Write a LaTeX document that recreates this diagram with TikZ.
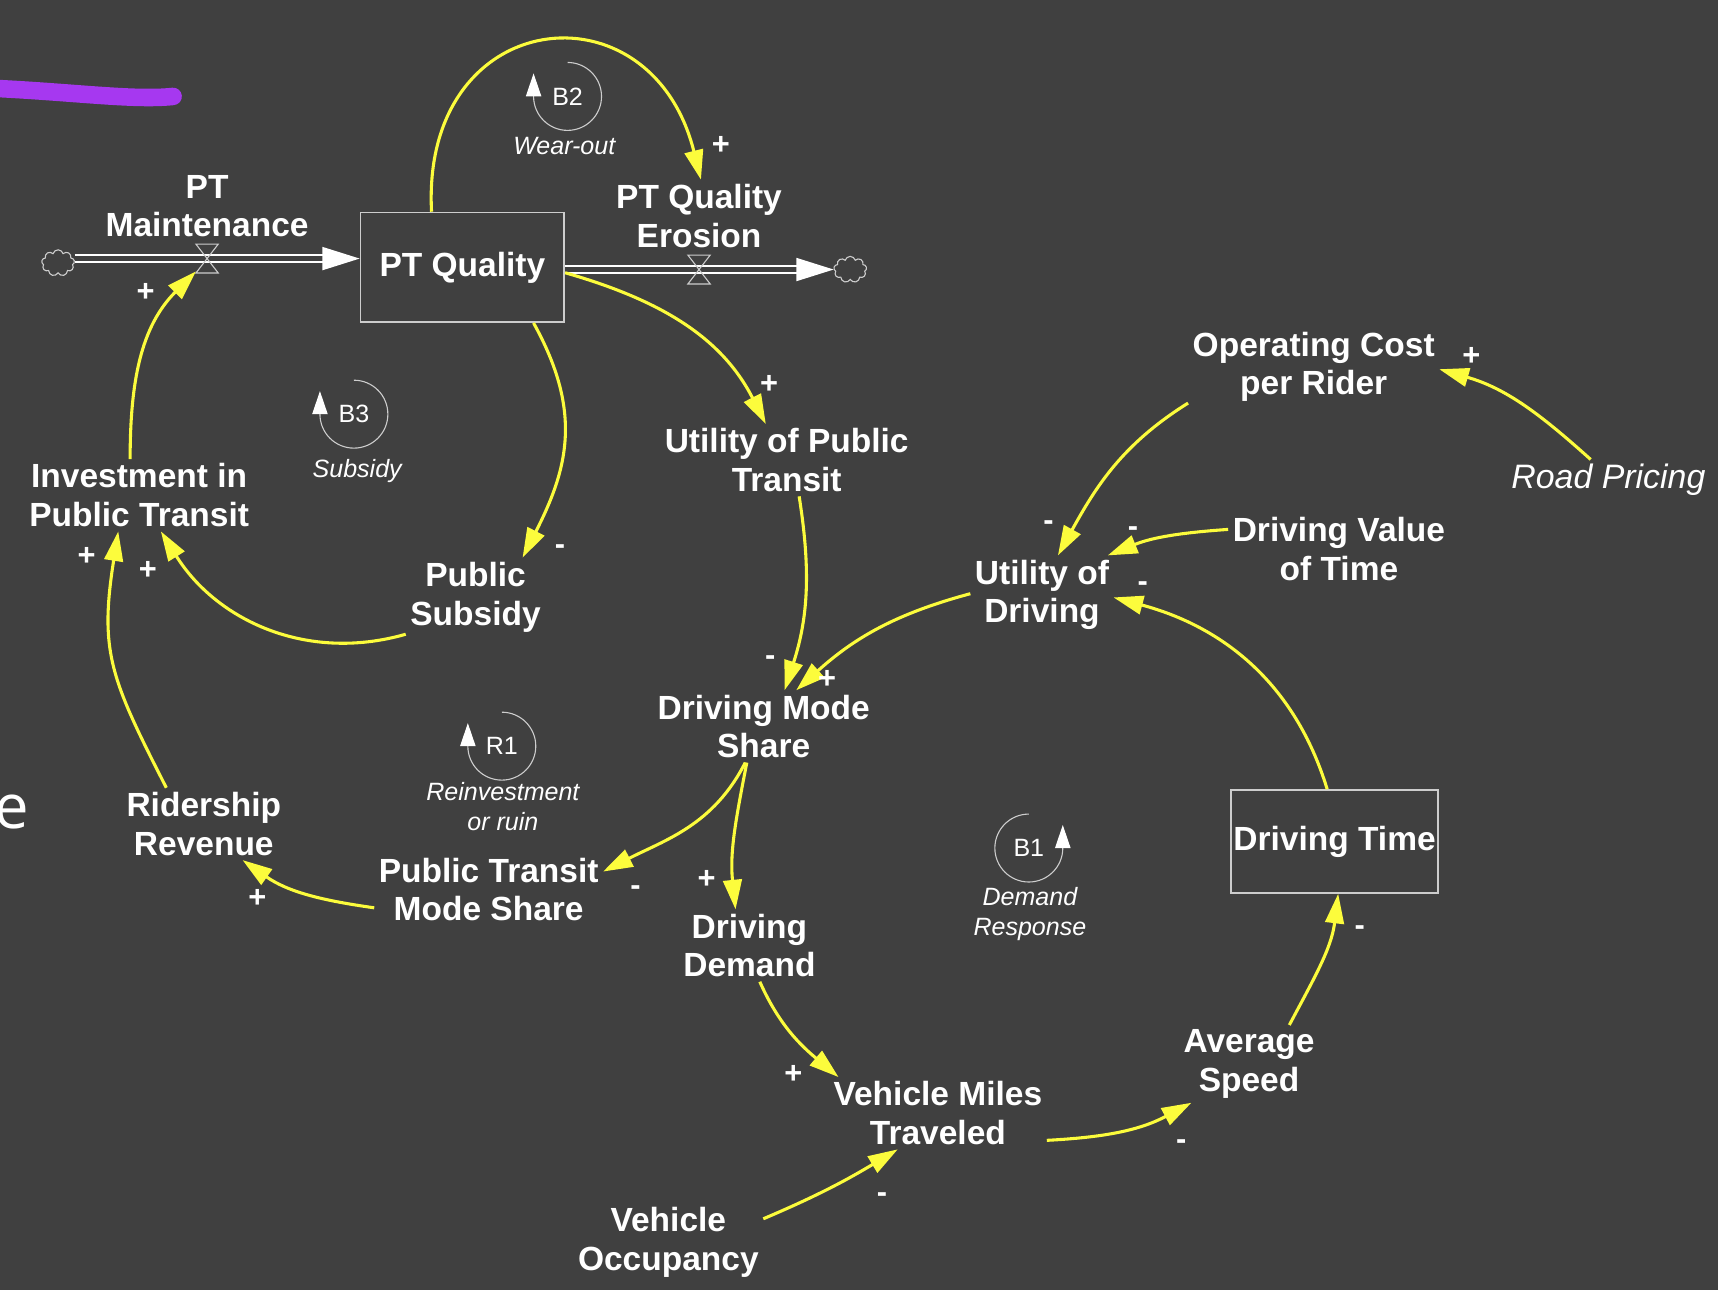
\documentclass[tikz,border=0pt]{standalone}
\usepackage{fontspec}
\setmainfont{Liberation Sans}
\newfontfamily\letterfont{Open Sans}
\usetikzlibrary{arrows.meta,shapes.symbols}

\definecolor{bg}{RGB}{64,64,64}
\definecolor{linkyellow}{RGB}{252,252,60}
\definecolor{markpurple}{RGB}{166,56,240}
\definecolor{rim}{RGB}{205,205,205}

\begin{document}
\begin{tikzpicture}[x=0.1mm,y=0.1mm,
    var/.style={text=white,align=center,font=\fontsize{8.7}{10}\selectfont\bfseries,inner sep=1pt},
    stock/.style={draw=rim,line width=0.15mm,text=white,font=\fontsize{8.7}{10}\selectfont\bfseries,inner sep=0pt},
    link/.style={draw=linkyellow,line width=0.8pt,-{Triangle[length=2.7mm,width=1.7mm]}},
    sign/.style={text=white,font=\fontsize{8}{9}\selectfont\bfseries,inner sep=0pt},
    pipe/.style={draw=white,line width=0.15mm,double=bg,double distance=0.45mm,-{Triangle[length=3.4mm,width=2.1mm,fill=white]}},
    valve/.style={minimum width=1.9mm,minimum height=2.5mm,inner sep=0pt},
    sourcesink/.style={cloud,cloud puffs=9,cloud ignores aspect,draw=rim,line width=0.1mm,minimum width=3mm,minimum height=2.4mm,inner sep=0pt},
    looptag/.style={text=white,font=\fontsize{6.5}{7.7}\selectfont,inner sep=0pt},
    loopname/.style={text=white,align=center,font=\fontsize{6.5}{7.7}\selectfont\itshape,inner sep=0pt},
    loopline/.style={draw=rim,line width=0.1mm,-{Triangle[length=2.1mm,width=1.4mm,color=white]}}]

    \fill[bg] (0,0) rectangle (1568,-1177);
    \useasboundingbox (0,0) rectangle (1568,-1177);

    \draw[markpurple,line width=1.6mm,line cap=round] (-20,-80) .. controls (60,-83) and (120,-92) .. (158,-88);
    \node[text=white,font=\letterfont\fontsize{16}{18}\selectfont,inner sep=0pt] (cutletter) at (11,-741) {e};

    \node[stock,minimum width=18.6mm,minimum height=10mm] (ptq) at (422,-244) {PT Quality};
    \node[stock,minimum width=18.9mm,minimum height=9.4mm] (dtime) at (1218,-768) {Driving Time};

    \node[sourcesink] (srccloud) at (53,-240) {};
    \node[sourcesink] (sinkcloud) at (776,-246) {};
    \node[valve] (maintvalve) at (189,-236) {};
    \node[valve] (erosionvalve) at (638,-246) {};
    \draw[pipe] (srccloud.east |- maintvalve) -- (ptq.west |- maintvalve);
    \draw[pipe] (ptq.east |- erosionvalve) -- (sinkcloud.west |- erosionvalve);
    \draw[rim,line width=0.1mm] (maintvalve.north west) -- (maintvalve.north east) -- (maintvalve.south west) -- (maintvalve.south east) -- cycle;
    \draw[rim,line width=0.1mm] (erosionvalve.north west) -- (erosionvalve.north east) -- (erosionvalve.south west) -- (erosionvalve.south east) -- cycle;

    \node[var] (maint) at (189,-188) {PT\\Maintenance};
    \node[var] (erosion) at (638,-197) {PT Quality\\Erosion};
    \node[var] (invest) at (127,-452) {Investment in\\Public Transit};
    \node[var] (subsidy) at (434,-545) {Public\\Subsidy};
    \node[var] (utilpt) at (718,-420) {Utility of Public\\Transit};
    \node[var] (opcost) at (1199,-335) {Operating Cost\\per Rider};
    \node[var,font=\fontsize{8.8}{10}\selectfont\itshape] (road) at (1468,-438) {Road Pricing};
    \node[var] (dvt) at (1222,-501) {Driving Value\\of Time};
    \node[var] (utildriv) at (951,-543) {Utility of\\Driving};
    \node[var] (dms) at (697,-663) {Driving Mode\\Share};
    \node[var] (ridership) at (186,-752) {Ridership\\Revenue};
    \node[var] (ptms) at (446,-812) {Public Transit\\Mode Share};
    \node[var] (ddemand) at (684,-863) {Driving\\Demand};
    \node[var] (avgspeed) at (1140,-971) {Average\\Speed};
    \node[var] (vmt) at (856,-1016) {Vehicle Miles\\Traveled};
    \node[var] (occupancy) at (610,-1134) {Vehicle\\Occupancy};

    \draw[link] (ptq.119) to[out=93,in=104,looseness=1.95] (erosion.87);
    \draw[link] (invest.104) to[out=90,in=225] (maintvalve.229);
    \draw[link] (ptq.-38) to[out=-61,in=63,looseness=1.1] (subsidy.40);
    \draw[link] (subsidy.208) to[out=196,in=-58] (invest.-59);
    \draw[link] (ridership.136) to[out=117,in=261,looseness=1.2] (invest.240);
    \draw[link] (ptq.-3) to[out=-16,in=117] (utilpt.120);
    \draw[link] (utilpt.-71) to[out=-81,in=72] (dms.60);
    \draw[link] (utildriv.179) to[out=195,in=42] (dms.48);
    \draw[link] (opcost.196) to[out=212,in=61] (utildriv.68);
    \draw[link] (road.131) to[out=138,in=344] (opcost.-1);
    \draw[link] (dvt.170) to[out=184,in=22] (utildriv.31);
    \draw[link] (dtime.98) to[out=107,in=-15] (utildriv.-2);
    \draw[link] (avgspeed.44) to[out=62,in=263] (dtime.-86);
    \draw[link] (vmt.-14) to[out=3,in=208] (avgspeed.214);
    \draw[link] (occupancy.14) to[out=23,in=211] (vmt.222);
    \draw[link] (ddemand.-74) to[out=-66,in=140] (vmt.160);
    \draw[link] (dms.245) to[out=259,in=96] (ddemand.111);
    \draw[link] (dms.243) to[out=243,in=27] (ptms.9);
    \draw[link] (ptms.189) to[out=172,in=325] (ridership.-43);

    \node[sign] (sgnerosion) at (658,-133) {+};
    \node[sign] (sgnmaint) at (133,-267) {+};
    \node[sign] (sgnsubsidy) at (511,-502) {-};
    \node[sign] (sgninvestA) at (135,-521) {+};
    \node[sign] (sgninvestB) at (79,-508) {+};
    \node[sign] (sgnutilpt) at (702,-351) {+};
    \node[sign] (sgndmsA) at (703,-603) {-};
    \node[sign] (sgndmsB) at (755,-620) {+};
    \node[sign] (sgnutilA) at (957,-480) {-};
    \node[sign] (sgnopcost) at (1343,-325) {+};
    \node[sign] (sgnutilB) at (1034,-485) {-};
    \node[sign] (sgnutilC) at (1043,-535) {-};
    \node[sign] (sgndtime) at (1241,-849) {-};
    \node[sign] (sgnspeed) at (1078,-1045) {-};
    \node[sign] (sgnvmtA) at (805,-1093) {-};
    \node[sign] (sgnvmtB) at (724,-981) {+};
    \node[sign] (sgndemand) at (645,-803) {+};
    \node[sign] (sgnptms) at (580,-813) {-};
    \node[sign] (sgnrider) at (235,-820) {+};

    \node[looptag] (B2) at (518,-88) {B2};
    \draw[loopline] (B2.center) ++(90:31) arc[start angle=90,end angle=-180,radius=31] -- ++(0,21);
    \node[loopname] (wearout) at (515,-133) {Wear-out};
    \node[looptag] (B3) at (323,-378) {B3};
    \draw[loopline] (B3.center) ++(90:31) arc[start angle=90,end angle=-180,radius=31] -- ++(0,21);
    \node[loopname] (subsidyloop) at (326,-430) {Subsidy};
    \node[looptag] (R1) at (458,-681) {R1};
    \draw[loopline] (R1.center) ++(90:31) arc[start angle=90,end angle=-180,radius=31] -- ++(0,21);
    \node[loopname] (reinvest) at (459,-736) {Reinvestment\\or ruin};
    \node[looptag] (B1) at (939,-774) {B1};
    \draw[loopline] (B1.center) ++(90:31) arc[start angle=90,end angle=360,radius=31] -- ++(0,21);
    \node[loopname] (demandresp) at (940,-834) {Demand\\Response};
\end{tikzpicture}
\end{document}
